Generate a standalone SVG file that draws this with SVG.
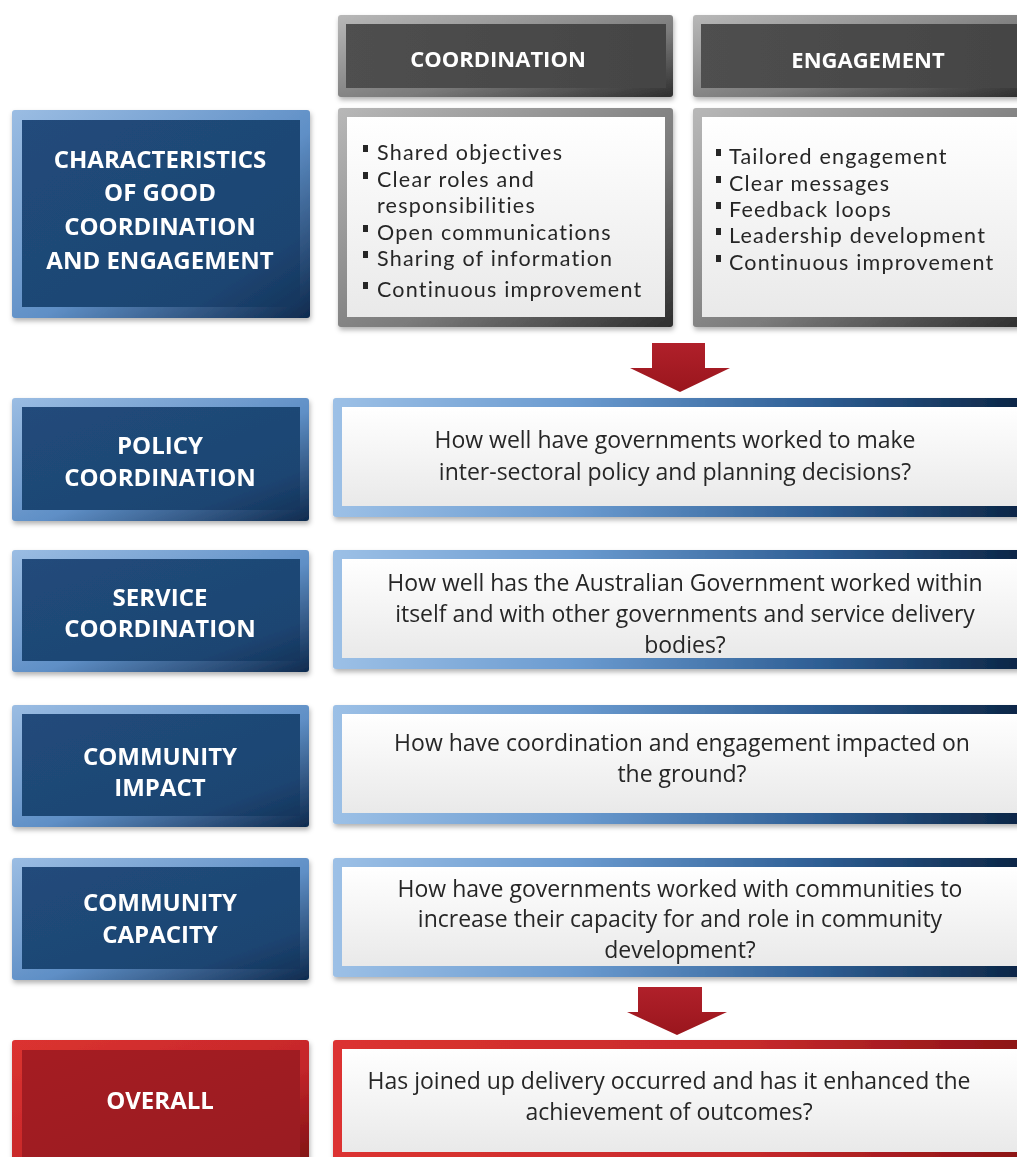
<svg xmlns="http://www.w3.org/2000/svg" width="1017" height="1157" viewBox="0 0 1017 1157">
<defs>
<linearGradient id="blueFrame" x1="0" y1="0" x2="1" y2="1">
<stop offset="0" stop-color="#9bbde3"/><stop offset="0.55" stop-color="#5f8fc6"/><stop offset="1" stop-color="#0e2a4e"/>
</linearGradient>
<linearGradient id="navy" x1="0" y1="0" x2="1" y2="1">
<stop offset="0" stop-color="#214b7b"/><stop offset="0.8" stop-color="#1d4572"/><stop offset="1" stop-color="#15355c"/>
</linearGradient>
<linearGradient id="contentFrame" x1="0" y1="0" x2="1" y2="0">
<stop offset="0" stop-color="#9cc0e6"/><stop offset="0.35" stop-color="#6b9bd0"/><stop offset="0.7" stop-color="#2f5f95"/><stop offset="1" stop-color="#0b2545"/>
</linearGradient>
<linearGradient id="paper" x1="0" y1="0" x2="0" y2="1">
<stop offset="0" stop-color="#ffffff"/><stop offset="1" stop-color="#e9e9e9"/>
</linearGradient>
<linearGradient id="grayFrame" x1="0" y1="0" x2="1" y2="1">
<stop offset="0" stop-color="#b8b8b8"/><stop offset="0.6" stop-color="#7a7a7a"/><stop offset="1" stop-color="#2e2e2e"/>
</linearGradient>
<linearGradient id="grayInner" x1="0" y1="0" x2="1" y2="0">
<stop offset="0" stop-color="#4f4f4f"/><stop offset="1" stop-color="#444444"/>
</linearGradient>
<linearGradient id="redFrame" x1="0" y1="0" x2="1" y2="1">
<stop offset="0" stop-color="#dc3330"/><stop offset="0.6" stop-color="#c4262a"/><stop offset="1" stop-color="#7d1014"/>
</linearGradient>
<linearGradient id="redFrameH" x1="0" y1="0" x2="1" y2="0">
<stop offset="0" stop-color="#dc3330"/><stop offset="0.6" stop-color="#c72a2c"/><stop offset="1" stop-color="#8c1216"/>
</linearGradient>
<linearGradient id="redInner" x1="0" y1="0" x2="1" y2="1">
<stop offset="0" stop-color="#a51d23"/><stop offset="1" stop-color="#9a1a20"/>
</linearGradient>
<linearGradient id="arrowGrad" x1="0" y1="0" x2="0" y2="1">
<stop offset="0" stop-color="#b0202a"/><stop offset="1" stop-color="#9a161d"/>
</linearGradient>
<filter id="shadow" x="-5%" y="-5%" width="112%" height="120%">
<feDropShadow dx="1" dy="3" stdDeviation="2.5" flood-color="#000" flood-opacity="0.3"/>
</filter>
<style>
.lbl{font-family:"Open Sans","Liberation Sans",sans-serif;font-weight:bold;font-size:24px;fill:#ffffff;text-anchor:middle}
.hdr{font-family:"Open Sans","Liberation Sans",sans-serif;font-weight:bold;font-size:22px;fill:#ffffff;text-anchor:middle}
.q{font-family:"Open Sans","Liberation Sans",sans-serif;font-size:23px;fill:#262626;text-anchor:middle}
.b{font-family:Lato,"Liberation Sans",sans-serif;font-size:21.5px;letter-spacing:1.2px;fill:#262626}
.dot{fill:#262626}
</style>
</defs>
<rect width="1017" height="1157" fill="#ffffff"/>

<g id="hdr-coordination" filter="url(#shadow)">
<rect x="338" y="15" width="335" height="82" rx="3" fill="url(#grayFrame)"/>
<rect x="346" y="24" width="320" height="64" fill="url(#grayInner)"/>
<text class="hdr" x="498" y="67">COORDINATION</text>
</g>
<g id="hdr-engagement" filter="url(#shadow)">
<rect x="693" y="15" width="330" height="82" rx="3" fill="url(#grayFrame)"/>
<rect x="701" y="24" width="320" height="64" fill="url(#grayInner)"/>
<text class="hdr" x="868" y="68">ENGAGEMENT</text>
</g>

<g id="node-characteristics" filter="url(#shadow)">
<rect x="12" y="110" width="298" height="208" rx="3" fill="url(#blueFrame)"/>
<rect x="22" y="120" width="278" height="187" fill="url(#navy)"/>
<text class="lbl" x="160" y="168">CHARACTERISTICS</text>
<text class="lbl" x="160" y="201">OF GOOD</text>
<text class="lbl" x="160" y="235">COORDINATION</text>
<text class="lbl" x="160" y="269">AND ENGAGEMENT</text>
</g>

<g id="list-coordination" filter="url(#shadow)">
<rect x="338" y="108" width="335" height="219" rx="3" fill="url(#grayFrame)"/>
<rect x="347" y="117" width="318" height="200" fill="url(#paper)"/>
<rect class="dot" x="363" y="145" width="5" height="7"/>
<text class="b" x="377" y="160">Shared objectives</text>
<rect class="dot" x="363" y="172" width="5" height="7"/>
<text class="b" x="377" y="187">Clear roles and</text>
<text class="b" x="377" y="213">responsibilities</text>
<rect class="dot" x="363" y="225" width="5" height="7"/>
<text class="b" x="377" y="240">Open communications</text>
<rect class="dot" x="363" y="251" width="5" height="7"/>
<text class="b" x="377" y="266">Sharing of information</text>
<rect class="dot" x="363" y="282" width="5" height="7"/>
<text class="b" x="377" y="297">Continuous improvement</text>
</g>

<g id="list-engagement" filter="url(#shadow)">
<rect x="693" y="108" width="330" height="219" rx="3" fill="url(#grayFrame)"/>
<rect x="702" y="117" width="320" height="200" fill="url(#paper)"/>
<rect class="dot" x="716" y="149" width="5" height="7"/>
<text class="b" x="729" y="164">Tailored engagement</text>
<rect class="dot" x="716" y="176" width="5" height="7"/>
<text class="b" x="729" y="191">Clear messages</text>
<rect class="dot" x="716" y="202" width="5" height="7"/>
<text class="b" x="729" y="217">Feedback loops</text>
<rect class="dot" x="716" y="228" width="5" height="7"/>
<text class="b" x="729" y="243">Leadership development</text>
<rect class="dot" x="716" y="255" width="5" height="7"/>
<text class="b" x="729" y="270">Continuous improvement</text>
</g>

<g id="node-policy" filter="url(#shadow)">
<rect x="12" y="398" width="297" height="123" rx="3" fill="url(#blueFrame)"/>
<rect x="22" y="407" width="278" height="103" fill="url(#navy)"/>
<text class="lbl" x="160" y="454">POLICY</text>
<text class="lbl" x="160" y="486">COORDINATION</text>
</g>
<g id="q-policy" filter="url(#shadow)">
<rect x="333" y="398" width="690" height="119" rx="3" fill="url(#contentFrame)"/>
<rect x="342" y="407" width="681" height="99" fill="url(#paper)"/>
<text class="q" x="675" y="448">How well have governments worked to make</text>
<text class="q" x="675" y="480">inter-sectoral policy and planning decisions?</text>
</g>

<g id="node-service" filter="url(#shadow)">
<rect x="12" y="550" width="297" height="122" rx="3" fill="url(#blueFrame)"/>
<rect x="22" y="559" width="278" height="102" fill="url(#navy)"/>
<text class="lbl" x="160" y="606">SERVICE</text>
<text class="lbl" x="160" y="637">COORDINATION</text>
</g>
<g id="q-service" filter="url(#shadow)">
<rect x="333" y="550" width="690" height="119" rx="3" fill="url(#contentFrame)"/>
<rect x="342" y="559" width="681" height="99" fill="url(#paper)"/>
<text class="q" x="685" y="591">How well has the Australian Government worked within</text>
<text class="q" x="685" y="622">itself and with other governments and service delivery</text>
<text class="q" x="685" y="653">bodies?</text>
</g>

<g id="node-impact" filter="url(#shadow)">
<rect x="12" y="705" width="297" height="122" rx="3" fill="url(#blueFrame)"/>
<rect x="22" y="714" width="278" height="102" fill="url(#navy)"/>
<text class="lbl" x="160" y="765">COMMUNITY</text>
<text class="lbl" x="160" y="796">IMPACT</text>
</g>
<g id="q-impact" filter="url(#shadow)">
<rect x="333" y="705" width="690" height="119" rx="3" fill="url(#contentFrame)"/>
<rect x="342" y="714" width="681" height="99" fill="url(#paper)"/>
<text class="q" x="682" y="751">How have coordination and engagement impacted on</text>
<text class="q" x="682" y="782">the ground?</text>
</g>

<g id="node-capacity" filter="url(#shadow)">
<rect x="12" y="858" width="297" height="122" rx="3" fill="url(#blueFrame)"/>
<rect x="22" y="867" width="278" height="102" fill="url(#navy)"/>
<text class="lbl" x="160" y="911">COMMUNITY</text>
<text class="lbl" x="160" y="943">CAPACITY</text>
</g>
<g id="q-capacity" filter="url(#shadow)">
<rect x="333" y="858" width="690" height="119" rx="3" fill="url(#contentFrame)"/>
<rect x="342" y="867" width="681" height="99" fill="url(#paper)"/>
<text class="q" x="680" y="897">How have governments worked with communities to</text>
<text class="q" x="680" y="927">increase their capacity for and role in community</text>
<text class="q" x="680" y="958">development?</text>
</g>

<g id="node-overall" filter="url(#shadow)">
<rect x="12" y="1040" width="297" height="125" rx="3" fill="url(#redFrame)"/>
<rect x="22" y="1050" width="278" height="110" fill="url(#redInner)"/>
<text class="lbl" x="160" y="1109">OVERALL</text>
</g>
<g id="q-overall" filter="url(#shadow)">
<rect x="333" y="1040" width="690" height="125" rx="3" fill="url(#redFrameH)"/>
<rect x="342" y="1049" width="681" height="103" fill="url(#paper)"/>
<text class="q" x="669" y="1089">Has joined up delivery occurred and has it enhanced the</text>
<text class="q" x="669" y="1120">achievement of outcomes?</text>
</g>

<g id="connectors">
<path d="M652,343 H705 V368 H730 L680,392 L630,368 H652 Z" fill="url(#arrowGrad)"/>
<path d="M638,987 H702 V1012 H727 L677,1035 L627,1012 H638 Z" fill="url(#arrowGrad)"/>
</g>
</svg>
